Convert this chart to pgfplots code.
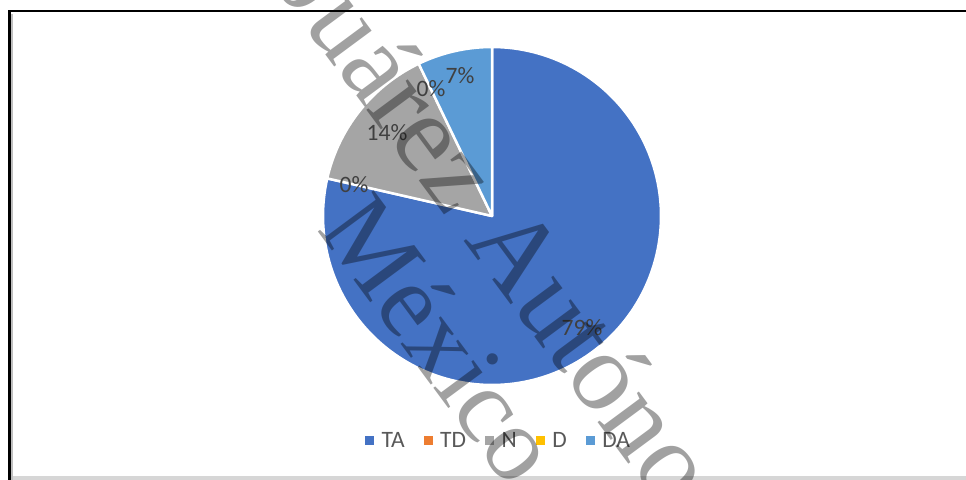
\documentclass[border=0pt]{standalone}
\usepackage{fontspec}
\setmainfont{Carlito}
\newfontfamily\wmfont{Liberation Serif}
\usepackage{pgfplots}
\pgfplotsset{compat=1.18}
\definecolor{cTA}{HTML}{4472C4}
\definecolor{cTD}{HTML}{ED7D31}
\definecolor{cN}{HTML}{A5A5A5}
\definecolor{cD}{HTML}{FFC000}
\definecolor{cDA}{HTML}{5B9BD5}
\definecolor{labgray}{HTML}{404040}
\definecolor{leggray}{HTML}{595959}
\newcommand\lblfont{\fontsize{23.5bp}{28bp}\selectfont}
\begin{document}
\begin{tikzpicture}
\path[use as bounding box, clip] (0,0) rectangle (966bp,480bp);
% counts: TA 11, TD 0, N 2, D 0, DA 1
\pgfmathsetmacro\total{11+0+2+0+1}
\pgfmathsetmacro\aA{90}
\pgfmathsetmacro\aB{90-360*11/\total}
\pgfmathsetmacro\aC{90-360*(11+0+2)/\total}
\pgfmathsetmacro\aD{90-360*(11+0+2+0+1)/\total}
\begin{axis}[at={(0,0)}, anchor=south west, scale only axis,
  width=966bp, height=480bp, xmin=0, xmax=966, ymin=0, ymax=480,
  hide axis, clip=false,
  legend columns=-1,
  legend image code/.code={\fill (0bp,-4.5bp) rectangle (9bp,4.5bp);},
  legend style={at={(0.37785,0.08333)}, anchor=west, draw=none, fill=none,
    inner sep=0pt, outer sep=0pt, font=\lblfont,
    cells={anchor=center},
    nodes={inner xsep=7.5bp, inner ysep=0pt, text depth=0pt, text=leggray},
    /tikz/every even column/.append style={column sep=11.5bp}},
]
\addplot[fill=cTA, draw=white, line width=2.5bp, line join=round, domain=\aB:\aA, samples=160, variable=\t, forget plot]
  ({492+169*cos(\t)},{264+169*sin(\t)}) -- (axis cs:492,264) -- cycle;
\addplot[fill=cN, draw=white, line width=2.5bp, line join=round, domain=\aC:\aB, samples=40, variable=\t, forget plot]
  ({492+169*cos(\t)},{264+169*sin(\t)}) -- (axis cs:492,264) -- cycle;
\addplot[fill=cDA, draw=white, line width=2.5bp, line join=round, domain=\aD:\aC, samples=30, variable=\t, forget plot]
  ({492+169*cos(\t)},{264+169*sin(\t)}) -- (axis cs:492,264) -- cycle;
\addlegendimage{fill=cTA, draw=none}\addlegendentry{TA}
\addlegendimage{fill=cTD, draw=none}\addlegendentry{TD}
\addlegendimage{fill=cN, draw=none}\addlegendentry{N}
\addlegendimage{fill=cD, draw=none}\addlegendentry{D}
\addlegendimage{fill=cDA, draw=none}\addlegendentry{DA}
\node[text=labgray, font=\lblfont] at (axis cs:582,152) {79\%};
\node[text=labgray, font=\lblfont] at (axis cs:354,295) {0\%};
\node[text=labgray, font=\lblfont] at (axis cs:387,347) {14\%};
\node[text=labgray, font=\lblfont] at (axis cs:431,391) {0\%};
\node[text=labgray, font=\lblfont] at (axis cs:460,404) {7\%};
\end{axis}
% frame
\fill[black!16] (8bp,0) rectangle (966bp,4bp);
\draw[black!25, line width=1.5bp] (12bp,0) -- (12bp,466bp);
\draw[line width=2.5bp] (9.6bp,0) -- (9.6bp,468.8bp) -- (966bp,468.8bp);
% watermark
\node[rotate=-53.5, anchor=base, text=black, text opacity=0.37, font=\wmfont\fontsize{112bp}{112bp}\selectfont, inner sep=0pt]
  at (496.5bp,195bp) {Universidad Juárez Autónoma de Tabasco};
\node[rotate=-53.5, anchor=base, text=black, text opacity=0.37, font=\wmfont\fontsize{106bp}{106bp}\selectfont, inner sep=0pt]
  at (413bp,120bp) {México};
\end{tikzpicture}
\end{document}
